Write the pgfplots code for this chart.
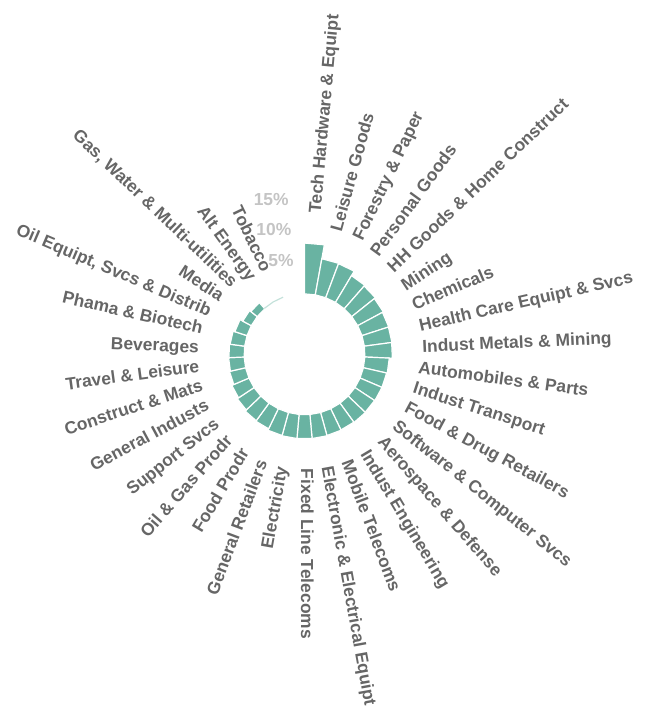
\documentclass[border=0pt]{standalone}
\usepackage{pgfplots}
\pgfplotsset{compat=1.18}
\usepackage{pgfplotstable}
\usepackage{fontspec}
\setmainfont{Liberation Sans}
\definecolor{barcol}{HTML}{69B3A2}
\definecolor{labcol}{HTML}{666666}
\definecolor{pctcol}{HTML}{C4C4C4}

% value in percent, category label (clockwise from the top)
\pgfplotstableread[col sep=semicolon]{
value;label
8.1;Tech Hardware \& Equipt
5.8;Leisure Goods
5.75;Forestry \& Paper
4.9;Personal Goods
4.75;HH Goods \& Home Construct
4.55;Mining
4.4;Chemicals
4.35;Health Care Equipt \& Svcs
4.3;Indust Metals \& Mining
3.8;Automobiles \& Parts
3.7;Indust Transport
3.7;Food \& Drug Retailers
3.65;Software \& Computer Svcs
3.7;Aerospace \& Defense
3.65;Indust Engineering
3.7;Mobile Telecoms
3.75;Electronic \& Electrical Equipt
3.75;Fixed Line Telecoms
3.75;Electricity
3.7;General Retailers
3.45;Food Prodr
3.35;Oil \& Gas Prodr
3.1;Support Svcs
2.85;General Industs
2.5;Construct \& Mats
2.35;Travel \& Leisure
2.3;Beverages
2.2;Phama \& Biotech
1.9;Oil Equipt, Svcs \& Distrib
1.4;Media
1.15;Gas, Water \& Multi-utilities
0;Alt Energy
0;Tobacco
}\data

% corners of one bar: s = side (start/end angle), o = inner/outer
\pgfplotstableread{
s o
0 0
0 1
1 1
1 0
0 0
}\corners

\tikzset{
  bar/.style={fill=barcol, draw=white, line width=1.2pt},
  zerobar/.style={fill=barcol!40, draw=none},
  lab/.style={font=\fontsize{17.4}{20}\selectfont\bfseries, text=labcol,
    inner sep=0pt, text height=0.7em, text depth=0pt},
  pct/.style={font=\fontsize{17.4}{20}\selectfont\bfseries, text=pctcol,
    inner sep=0pt, text height=0.7em, text depth=0pt, anchor=east},
}

\begin{document}
\begin{tikzpicture}
\begin{axis}[
  name=ax,
  x=1pt, y=1pt,
  xmin=-304.5, xmax=342.5, ymin=-351.7, ymax=354.3,
  hide axis, clip=false,
]
\pgfplotsforeachungrouped \i in {0,...,32}{%
  \pgfplotstablegetelem{\i}{value}\of\data
  \let\val=\pgfplotsretval
  \pgfplotstablegetelem{\i}{label}\of\data
  \let\lab=\pgfplotsretval
  \pgfmathsetmacro\ang{(\i+0.5)*360/35}%
  \pgfmathsetmacro\rl{61+6.13*\val+30.5}%
  \ifdim\ang pt<180.5pt
    \pgfmathsetmacro\rot{90-\ang}\def\anc{west}%
  \else
    \pgfmathsetmacro\rot{270-\ang}\def\anc{east}%
  \fi
  \ifdim\val pt<0.01pt \def\sty{zerobar}\else\def\sty{bar}\fi
  \edef\temp{%
    \noexpand\addplot[\sty] table[
      x expr={(60.4+(1.2+6.13*\val)*\noexpand\thisrow{o})*sin((\i+\noexpand\thisrow{s})*360/35)},
      y expr={(60.4+(1.2+6.13*\val)*\noexpand\thisrow{o})*cos((\i+\noexpand\thisrow{s})*360/35)}]
      {\noexpand\corners};
    \noexpand\node[lab, rotate=\rot, anchor=\anc] at (axis cs:{\rl*sin(\ang)},{\rl*cos(\ang)}) {\lab};
  }%
  \temp
}
\node[pct] at (axis cs:-10.7,91) {5\%};
\node[pct] at (axis cs:-13,122.1) {10\%};
\node[pct] at (axis cs:-15.7,152.6) {15\%};
\end{axis}
\pgfresetboundingbox
\path[use as bounding box] (ax.south west) rectangle (ax.north east);
\end{tikzpicture}
\end{document}
